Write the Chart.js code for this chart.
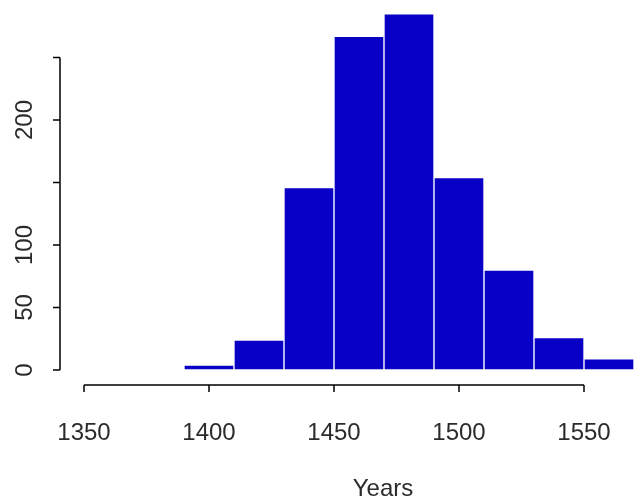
<!DOCTYPE html>
<html>
<head>
<meta charset="utf-8">
<script src="https://cdn.jsdelivr.net/npm/chart.js@4/dist/chart.umd.min.js"></script>
<style>
  body { margin: 0; background: #fff; }
  #wrap { width: 635px; height: 501px; }
</style>
</head>
<body>
<div id="wrap"><canvas id="hist" width="635" height="501"></canvas></div>
<script>
// histogram bins (centre of each 20-year bin) and counts
const binMids = [1400, 1420, 1440, 1460, 1480, 1500, 1520, 1540, 1560];
const counts = [4, 24, 146, 267, 285, 154, 80, 26, 9];
const xTicks = [1350, 1400, 1450, 1500, 1550];
const yTicks = [0, 50, 100, 150, 200, 250];
const yTickLabels = ["0", "50", "100", "", "200", ""];
const xTitle = "Years";

const barColor = "#0800c4";
const textColor = "#2b2b2b";
const font = "24px 'Liberation Sans', Arial, sans-serif";

// R style axes: detached from the plot box, only across the tick range
const rAxes = {
    id: 'rAxes',
    afterDraw(chart) {
        const ctx = chart.ctx;
        const xs = chart.scales.x, ys = chart.scales.y;
        const axisY = chart.chartArea.bottom;
        const axisX = chart.chartArea.left;
        ctx.save();
        ctx.strokeStyle = '#000';
        ctx.lineWidth = 1.5;
        ctx.fillStyle = textColor;
        ctx.font = font;

        // x axis
        ctx.beginPath();
        ctx.moveTo(xs.getPixelForValue(xTicks[0]), axisY);
        ctx.lineTo(xs.getPixelForValue(xTicks[xTicks.length - 1]), axisY);
        xTicks.forEach(v => {
            let px = xs.getPixelForValue(v);
            ctx.moveTo(px, axisY);
            ctx.lineTo(px, axisY + 7);
        });
        ctx.stroke();
        ctx.textAlign = 'center';
        ctx.textBaseline = 'middle';
        xTicks.forEach(v => {
            ctx.fillText(String(v), xs.getPixelForValue(v), 433);
        });
        ctx.fillText(xTitle, 383, 489);

        // y axis
        ctx.beginPath();
        ctx.moveTo(axisX, ys.getPixelForValue(yTicks[0]));
        ctx.lineTo(axisX, ys.getPixelForValue(yTicks[yTicks.length - 1]));
        yTicks.forEach(v => {
            let py = ys.getPixelForValue(v);
            ctx.moveTo(axisX, py);
            ctx.lineTo(axisX - 7, py);
        });
        ctx.stroke();
        yTicks.forEach((v, i) => {
            if (!yTickLabels[i]) return;
            ctx.save();
            ctx.translate(25, ys.getPixelForValue(v));
            ctx.rotate(-Math.PI / 2);
            ctx.fillText(yTickLabels[i], 0, 0);
            ctx.restore();
        });
        ctx.restore();
    }
};

var ctxH = document.getElementById("hist").getContext('2d');

var histChart = new Chart(ctxH, {
    type: 'bar',
    plugins: [rAxes],
    data: {
        datasets: [{
            data: binMids.map((m, i) => ({ x: m, y: counts[i] })),
            backgroundColor: barColor,
            borderColor: '#ffffff',
            borderWidth: 1,
            borderSkipped: false,
            barPercentage: 1,
            categoryPercentage: 1
        }]
    },
    options: {
        responsive: false,
        animation: false,
        layout: {
            padding: { left: 60, right: 0, top: 0, bottom: 116 }
        },
        plugins: {
            legend: { display: false },
            tooltip: { enabled: false }
        },
        scales: {
            x: { type: 'linear', display: false, offset: false, min: 1340.4, max: 1570.4 },
            y: { display: false, min: -12, max: 296 }
        }
    }
});
</script>
</body>
</html>
